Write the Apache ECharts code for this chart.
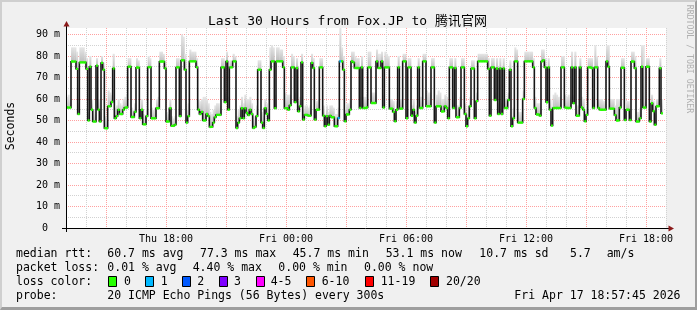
<!DOCTYPE html>
<html><head><meta charset="utf-8">
<script src="https://cdn.jsdelivr.net/npm/echarts@6/dist/echarts.min.js"></script>
<style>
html,body{margin:0;padding:0;background:#f0f0f0;}
#wrap{position:relative;width:697px;height:310px;overflow:hidden;}
#chart{position:absolute;left:0;top:0;width:697px;height:310px;}
#frame{position:absolute;left:0;top:0;width:697px;height:310px;box-sizing:border-box;border-top:2px solid #cfcfcf;border-left:2px solid #cfcfcf;border-right:2px solid #9e9e9e;border-bottom:3px solid #9e9e9e;pointer-events:none;}
</style></head>
<body><div id="wrap"><div id="chart"></div><div id="frame"></div></div>
<script>
// ---------------- data ----------------
const titleText = 'Last 30 Hours from Fox.JP to 腾讯官网';
const stepMinutes = 5;               // one median value per 5-minute step
const spanHours = 30;
// median rtt per step (ms)
const median = [
56,56,56,77.4,77.4,77.4,74,53,77,77,
77,77,74,50,75,55,49.5,49.5,75.5,55,
49.5,76.8,73.6,46.4,46.4,56.6,56.6,58.6,74.2,51,
52,55,53,53,55,56,56,75,75,51.6,
51.6,54,74.6,74.6,51,55,48.2,48.2,52,74.8,
74.8,51,51,51,55.7,55.7,77.4,77.4,77.4,74.2,
49.5,49.5,55.7,47.5,47.5,48,74.7,74.7,52,78,
78,73.6,49,52,77.5,77.5,77.5,77.5,74.7,55,
53,54,50,50,53,52,47,47,49,51.5,
52.6,52.6,52.6,74.7,74.7,58.5,77.5,55,74.7,74.7,
77.5,77.5,46.5,49,51,55.7,51,55.7,53.5,52.5,
55,53,46.5,47,52,73.6,73.6,49,46.5,55.7,
53,50,73.6,77.5,77.5,55.7,77.5,77.5,77.5,77.5,
74.7,55.7,55.7,55,57,74.7,74.7,58.5,74.4,54.2,
56.6,77,50.4,52.6,52.6,52.2,52.2,76.8,74.4,50.4,
55,55,74.7,74.7,52.2,47.3,52,48,52.2,51.5,
51.5,47.3,47.3,51.1,77.5,77.5,73.6,49.6,52.8,52.8,
55,77.5,77,74.4,74.4,74.4,55.8,74.7,55.8,55.8,
56,74.7,74.7,58.1,58.1,58.1,77.5,74.4,74.4,77.5,
56,74.7,74.7,74.7,55.5,55.5,54,49.6,55,74.7,
55.5,55.5,77.5,77.5,51,74.7,74.7,52.2,55,49,
52.2,74.7,55.8,55.8,77.5,77.5,56.6,56.6,56.6,74.7,
74.7,49,56.6,56.6,56.6,54.2,54.2,56.6,55.8,51,
74.7,74.7,55.8,74.4,51.5,51.5,55.8,74.7,74.7,53,
47.3,51,56.6,74.2,74.2,51,59,77.5,77.5,77.5,
77.5,77.5,77.5,74,52.2,74.7,74.7,59.5,74.2,53,
74.2,53,74.2,55.8,55.8,59.5,73.6,47.3,51,77.5,
77.5,49,49,49,60,77.5,77.5,77.5,77.5,77.5,
74.7,55.8,52.8,52.8,52.2,77.5,78,74.7,58.5,74.7,
55,47.6,55.8,55.8,55.8,55.8,55.8,74.7,74.7,56,
55.8,55.8,55.8,74.7,58,74.7,52.2,52.2,74.7,56,
55,49.6,52.6,74.7,74.7,74.4,55.8,74.7,74.7,55.8,
55,55,55,55,77.5,75,55.5,55.5,55.5,52.5,
50,50,56,74.5,74.5,50.2,55,55,50.2,77.4,
77.4,74.3,49.5,49.5,51,75,56,56,75,75,
49.5,58,54.3,48,56.6,56.6,74.3,53.3
];
// highest ping per step (top of the smoke, ms)
const smokeMax = [
61,62,60,84,84,84,82,58,84,84,
84,82,79,54,80,60,55,54,79,60,
54,80,77,52,51,64,63,62,81,56,
57,60,58,57,60,61,62,79,79,56,
55,58,79,78,55,60,53,52,56,80,
79,56,55,56,60,61,82,82,81,78,
54,53,60,52,51,52,79,79,57,90,
89,81,55,58,83,82,82,82,79,60,
59,60,61,61,60,58,54,53,55,57,
58,58,57,79,79,63,82,61,78,78,
81,80,52,55,57,61,58,62,60,60,
61,58,52,52,57,78,78,54,52,60,
58,55,84,85,84,62,84,84,83,83,
80,63,62,62,62,81,80,63,79,59,
61,81,55,57,57,56,57,81,79,55,
59,60,79,79,57,53,57,54,57,57,
56,53,53,56,93,84,80,55,58,58,
60,82,82,80,79,79,61,80,61,61,
62,82,82,63,63,63,83,81,81,82,
62,82,81,80,60,60,59,54,59,80,
60,60,81,81,55,79,79,57,60,54,
57,79,61,61,81,81,64,63,63,79,
79,57,62,64,63,60,60,62,61,57,
79,79,60,79,57,57,61,79,79,58,
53,57,61,78,78,56,63,81,81,81,
81,81,81,79,57,79,79,63,79,58,
79,58,79,60,60,63,78,52,56,84,
83,54,54,54,64,82,82,82,82,82,
79,61,58,58,58,83,83,79,63,79,
60,53,62,63,62,61,61,80,80,62,
61,62,61,82,62,82,57,57,79,61,
60,54,57,79,79,79,61,85,80,60,
60,60,59,59,85,85,60,60,60,57,
60,60,60,79,79,55,59,59,55,82,
82,80,54,54,56,85,85,60,79,79,
54,62,59,53,60,60,79,60
];
// steps with lost pings (index, number of pings lost)
const lossIdx = [163, 164];
const lossVal = [1, 1];
// x axis: hours since Thu 13:00
const xTickHours = [5, 11, 17, 23, 29];
const xTickLabels = ['Thu 18:00', 'Fri 00:00', 'Fri 06:00', 'Fri 12:00', 'Fri 18:00'];
const yMax = 93;
const yLabelStep = 10;
// legend texts
const rttLabel = 'median rtt:';
const rttStats = ['60.7 ms avg', '77.3 ms max', '45.7 ms min', '53.1 ms now', '10.7 ms sd', '5.7', 'am/s'];
const lossLabel = 'packet loss:';
const lossStats = ['0.01 % avg', '4.40 % max', '0.00 % min', '0.00 % now'];
const lossColorLabel = 'loss color:';
const lossBuckets = ['0', '1', '2', '3', '4-5', '6-10', '11-19', '20/20'];
const lossColors = ['#26ff00', '#00b8ff', '#0059ff', '#7e00ff', '#ff00ff', '#ff5500', '#ff0000', '#a10000'];
const probeLabel = 'probe:';
const probeText = '20 ICMP Echo Pings (56 Bytes) every 300s';
const stampText = 'Fri Apr 17 18:57:45 2026';
const yName = 'Seconds';
const watermark = 'RRDTOOL / TOBI OETIKER';

// ---------------- layout (positions / styles) ----------------
const MONO = "'DejaVu Sans Mono', 'Noto Sans CJK SC', monospace";
const LFS = 11.5;
const rowY = [254, 268, 282, 296];
const rttX = [107.3, 200, 292.7, 385.7, 479.3, 570, 606.7];
const lossX = [107.3, 192.7, 278.3, 364];
const boxX = [108.5, 145.5, 182.5, 219.5, 256.5, 306.5, 365.5, 430.5];
const bucketX = [124, 160.7, 197.3, 234, 270.7, 321.7, 380.7, 446];

const dt = stepMinutes / 60;
const n = median.length;
const lossAt = median.map(() => 0);
lossIdx.forEach((k, j) => { lossAt[k] = lossVal[j]; });

const smokeData = median.map((m, i) => [i * dt, (i + 1) * dt, m, Math.max(m, smokeMax[i])]);
// vertical connectors of the stair-step median line: [time, from, to]
const riseData = median.slice(1).map((m, i) => [(i + 1) * dt, median[i], m]);
const segData = median.map((m, i) => [i * dt, (i + 1) * dt, m, lossAt[i]]);

function txt(x, y, s, extra) {
  return Object.assign({ type: 'text', x: x, y: y, silent: true,
    style: Object.assign({ text: s, font: LFS + 'px ' + MONO, fill: '#000', textAlign: 'left', textVerticalAlign: 'middle' }, extra || {}) });
}
const graphics = [];
graphics.push({ type: 'text', x: 347.5, y: 21.5, style: { text: titleText, font: '13px ' + MONO, fill: '#000', textAlign: 'center', textVerticalAlign: 'middle' } });
graphics.push({ type: 'text', x: 11, y: 126, rotation: Math.PI / 2, style: { text: yName, font: LFS + 'px ' + MONO, fill: '#000', textAlign: 'center', textVerticalAlign: 'middle' } });
graphics.push({ type: 'text', x: 689, y: 59, rotation: -Math.PI / 2, style: { text: watermark, font: '8.2px ' + MONO, fill: '#b0b0b0', textAlign: 'center', textVerticalAlign: 'middle' } });
graphics.push(txt(16, rowY[0], rttLabel));
rttStats.forEach((s, i) => graphics.push(txt(rttX[i], rowY[0], s)));
graphics.push(txt(16, rowY[1], lossLabel));
lossStats.forEach((s, i) => graphics.push(txt(lossX[i], rowY[1], s)));
graphics.push(txt(16, rowY[2], lossColorLabel));
lossBuckets.forEach((s, i) => {
  graphics.push({ type: 'rect', shape: { x: boxX[i], y: rowY[2] - 5.5, width: 8, height: 10 }, style: { fill: lossColors[i], stroke: '#000', lineWidth: 1 } });
  graphics.push(txt(bucketX[i], rowY[2], s));
});
graphics.push(txt(16, rowY[3], probeLabel));
graphics.push(txt(107.3, rowY[3], probeText));
graphics.push(txt(680.5, rowY[3], stampText, { textAlign: 'right' }));
// axis extensions and arrows
graphics.push({ type: 'line', shape: { x1: 66.5, y1: 26, x2: 66.5, y2: 232 }, style: { stroke: '#000', lineWidth: 1 }, z: 10 });
graphics.push({ type: 'line', shape: { x1: 62, y1: 228.5, x2: 669, y2: 228.5 }, style: { stroke: '#000', lineWidth: 1 }, z: 10 });
graphics.push({ type: 'polygon', shape: { points: [[66.5, 21], [63.5, 26.5], [69.5, 26.5]] }, style: { fill: '#8b1a1a' }, z: 10 });
graphics.push({ type: 'polygon', shape: { points: [[674, 228.5], [668.5, 225.5], [668.5, 231.5]] }, style: { fill: '#8b1a1a' }, z: 10 });

const chart = echarts.init(document.getElementById('chart'), null, { renderer: 'canvas' });
chart.setOption({
  animation: false,
  backgroundColor: '#f0f0f0',
  grid: { left: 66, top: 28, width: 600, height: 200, show: true, backgroundColor: '#ffffff', borderWidth: 0 },
  xAxis: {
    type: 'value', min: 0, max: spanHours, interval: 1,
    axisLine: { show: false },
    axisTick: { show: false },
    axisLabel: { margin: 6, fontFamily: MONO, fontSize: 10, color: '#000',
      formatter: v => { const k = xTickHours.indexOf(v); return k >= 0 ? xTickLabels[k] : ''; } },
    splitLine: { show: true, lineStyle: { color: ['#d2d2d2', '#d2d2d2', '#ffa0a0'], type: [1, 1], width: 1 } }
  },
  yAxis: {
    type: 'value', min: 0, max: yMax, interval: 5,
    axisLine: { show: false },
    axisTick: { show: false },
    axisLabel: { margin: 6, fontFamily: MONO, fontSize: 10, color: '#000',
      formatter: v => (v % yLabelStep === 0 ? (v === 0 ? '0  ' : v + ' m') : '') },
    splitLine: { show: true, showMaxLine: false, lineStyle: { color: ['#ffa0a0', '#d2d2d2'], type: [1, 1], width: 1 } }
  },
  graphic: graphics,
  series: [
    {
      type: 'custom', name: 'smoke', z: 2, silent: true,
      data: smokeData, encode: { x: [0, 1], y: [2, 3] },
      renderItem: (params, api) => {
        const a = api.coord([api.value(0), api.value(3)]);
        const b = api.coord([api.value(1), api.value(2)]);
        return { type: 'rect', shape: { x: a[0], y: a[1], width: b[0] - a[0] + 0.4, height: b[1] - a[1] },
          style: { fill: { type: 'linear', x: 0, y: 0, x2: 0, y2: 1, colorStops: [{ offset: 0, color: '#e6e6e6' }, { offset: 1, color: '#bdbdbd' }] } } };
      }
    },
    {
      type: 'custom', name: 'median', z: 3, silent: true,
      data: riseData, encode: { x: 0, y: [1, 2] },
      renderItem: (params, api) => {
        const a = api.coord([api.value(0), api.value(1)]);
        const b = api.coord([api.value(0), api.value(2)]);
        const top = Math.min(a[1], b[1]), h = Math.abs(a[1] - b[1]);
        return { type: 'rect', shape: { x: a[0] - 0.8, y: top - 0.6, width: 1.6, height: h + 1.2 },
          style: { fill: '#161616' } };
      }
    },
    {
      type: 'custom', name: 'loss', z: 4, silent: true,
      data: segData, encode: { x: [0, 1], y: 2 },
      renderItem: (params, api) => {
        const a = api.coord([api.value(0), api.value(2)]);
        const b = api.coord([api.value(1), api.value(2)]);
        return { type: 'rect', shape: { x: a[0], y: a[1] - 1.2, width: b[0] - a[0] + 0.3, height: 2.4 },
          style: { fill: lossColors[api.value(3)] } };
      }
    }
  ]
});
</script>
</body></html>
